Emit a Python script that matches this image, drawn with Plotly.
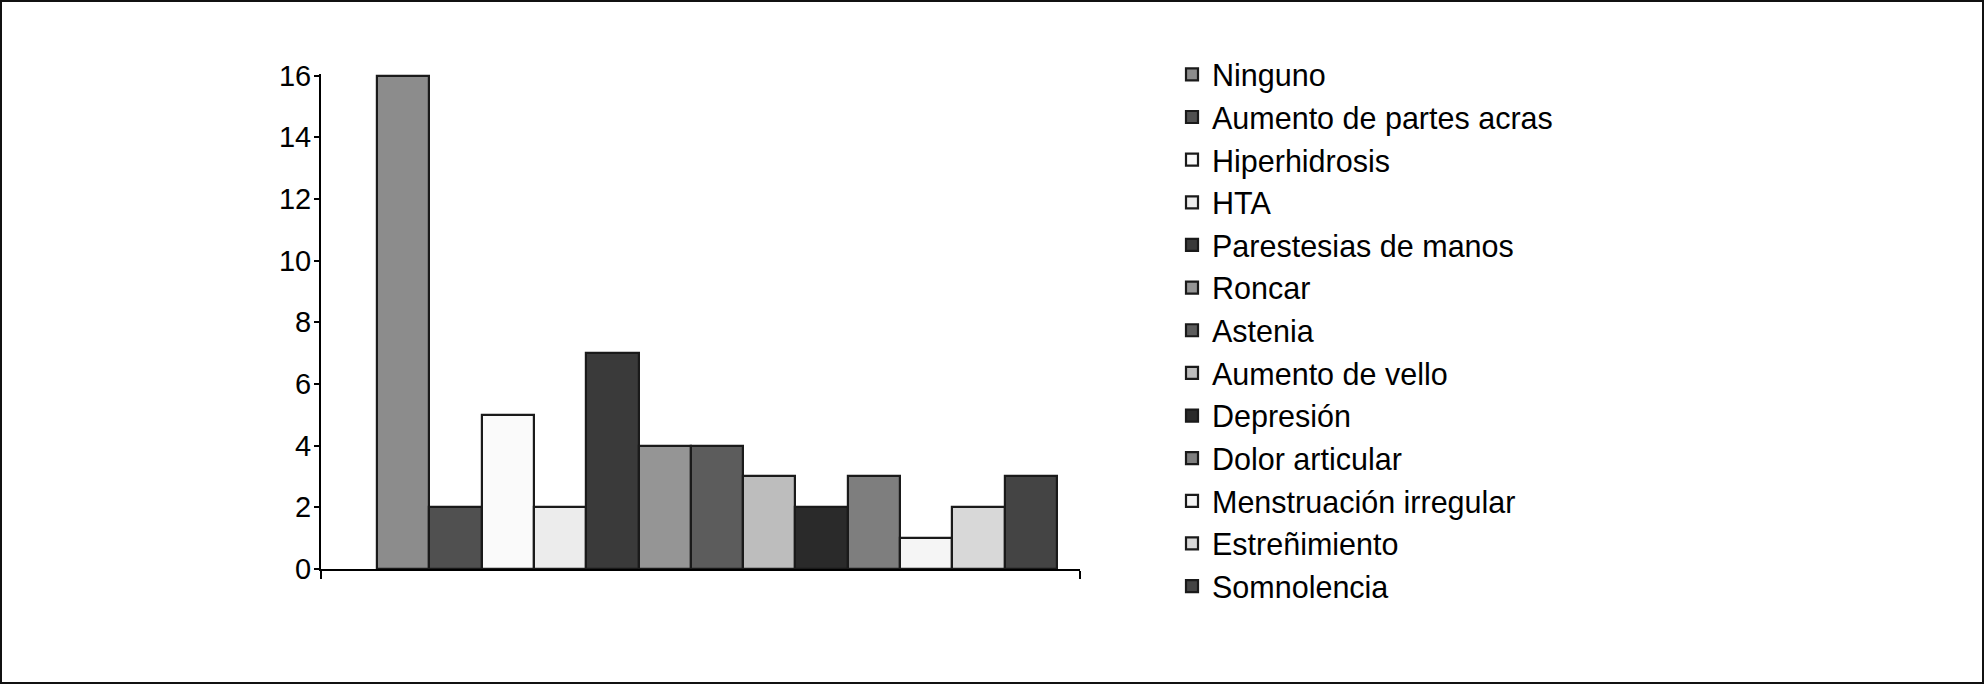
import plotly.graph_objects as go

# ---- data ----
categories = [
    "Ninguno", "Aumento de partes acras", "Hiperhidrosis", "HTA",
    "Parestesias de manos", "Roncar", "Astenia", "Aumento de vello",
    "Depresión", "Dolor articular", "Menstruación irregular",
    "Estreñimiento", "Somnolencia",
]
values = [16, 2, 5, 2, 7, 4, 4, 3, 2, 3, 1, 2, 3]
colors = [
    "#8c8c8c", "#505050", "#fafafa", "#ececec", "#3a3a3a", "#959595",
    "#5c5c5c", "#bdbdbd", "#2a2a2a", "#7e7e7e", "#f5f5f5", "#d8d8d8",
    "#444444",
]
y_ticks = [0, 2, 4, 6, 8, 10, 12, 14, 16]

# ---- layout geometry ----
W, H = 1984, 684
ML, MR, MT, MB = 321, 904, 74, 115
PW, PH = W - ML - MR, H - MT - MB
X_RANGE = [-1.57, 12.94]

fig = go.Figure()
for i, (name, val, col) in enumerate(zip(categories, values, colors)):
    fig.add_trace(go.Bar(
        x=[i], y=[val], width=1, name=name,
        marker=dict(color=col, line=dict(color="#1a1a1a", width=2.2)),
    ))

fig.update_layout(
    width=W, height=H,
    margin=dict(l=ML, r=MR, t=MT, b=MB, pad=0),
    paper_bgcolor="white", plot_bgcolor="white",
    font=dict(family="Liberation Sans, Arial, sans-serif", color="black"),
    bargap=0, barmode="overlay",
    showlegend=True,
    legend=dict(
        x=(1172 - ML) / PW, xanchor="left",
        y=1 + (MT - 48) / PH, yanchor="top",
        font=dict(size=30.5, color="black"),
        bgcolor="rgba(0,0,0,0)", borderwidth=0,
        traceorder="normal", maxheight=H,
    ),
    xaxis=dict(
        range=X_RANGE, showgrid=False, zeroline=False,
        showline=True, linecolor="black", linewidth=2,
        tickmode="array", tickvals=[X_RANGE[0] + 0.001, X_RANGE[1] - 0.001],
        ticks="outside", ticklen=8, tickwidth=2, tickcolor="black",
        showticklabels=False, fixedrange=True,
    ),
    yaxis=dict(
        range=[0, 16.05], showgrid=False, zeroline=False,
        showline=True, linecolor="black", linewidth=2,
        tickmode="array", tickvals=y_ticks,
        ticks="outside", ticklen=5, tickwidth=2, tickcolor="black",
        ticklabelstandoff=-3,
        tickfont=dict(size=29, color="black"), fixedrange=True,
    ),
    shapes=[dict(
        type="rect", xref="paper", yref="paper",
        x0=(-ML + 1) / PW, x1=1 + (MR - 1) / PW,
        y0=(-MB + 1) / PH, y1=1 + (MT - 1) / PH,
        line=dict(color="#111111", width=2), fillcolor="rgba(0,0,0,0)",
        layer="below",
    )],
)

fig.write_html(
    "out.html",
    config={"displayModeBar": False},
    post_script="document.body.style.margin='0';document.body.style.overflow='hidden';",
)
